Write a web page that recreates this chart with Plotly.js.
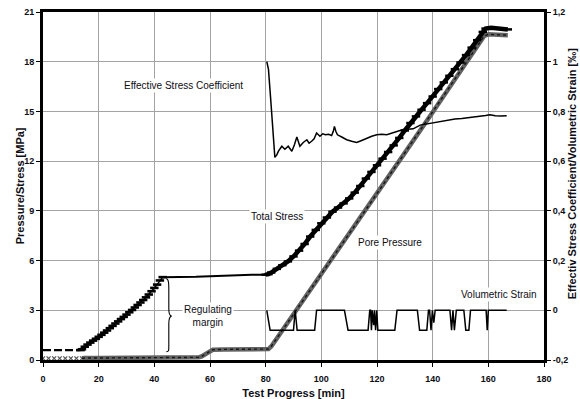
<!DOCTYPE html>
<html>
<head>
<meta charset="utf-8">
<script src="https://cdn.plot.ly/plotly-3.0.1.min.js"></script>
<style>
  html, body { margin: 0; padding: 0; background: #ffffff; }
  #chart { width: 580px; height: 399px; }
</style>
</head>
<body>
<div id="chart"></div>
<script>
// Test progress in minutes and the measured pressures (MPa)
const totalStressMin = [0, 13.5, 14, 15, 16, 17, 18, 19, 20, 21, 22, 23, 24, 25, 26, 27, 28, 29, 30, 31, 32, 33, 34, 35, 36, 37, 38, 39, 40, 41, 42, 43,
  45, 50, 55, 60, 65, 70, 75, 80, 81, 82, 84, 86, 88, 90, 92, 94, 96, 98, 100, 102, 104, 106, 108, 110, 112, 114, 116, 118, 120,
  122, 124, 126, 128, 130, 132, 134, 136, 138, 140, 142, 144, 146, 148, 150, 152, 154, 156, 158, 159, 161, 164, 167];
const totalStressMPa = [0.6, 0.6, 0.65, 0.8, 0.93, 1.05, 1.17, 1.28, 1.4, 1.52, 1.65, 1.78, 1.92, 2.06, 2.2, 2.33, 2.47, 2.6, 2.74, 2.88, 3.02, 3.17, 3.32, 3.47, 3.62, 3.78, 3.95, 4.15, 4.35, 4.55, 4.8, 5.0,
  5.0, 5.02, 5.02, 5.06, 5.1, 5.12, 5.14, 5.15, 5.18, 5.28, 5.5, 5.72, 5.95, 6.25, 6.6, 7.0, 7.45, 7.85, 8.25, 8.6, 8.95, 9.2, 9.45, 9.75, 10.1, 10.5, 10.95, 11.35, 11.75,
  12.15, 12.55, 12.95, 13.4, 13.85, 14.3, 14.7, 15.1, 15.5, 15.9, 16.35, 16.75, 17.15, 17.55, 17.95, 18.4, 18.85, 19.3, 19.8, 20.0, 20.05, 20.0, 19.95];

const porePressureMin = [0, 2, 4, 6, 8, 10, 12, 14, 15, 20, 30, 40, 50, 55, 56, 57, 58, 59, 60, 61, 65, 70, 75, 80, 81, 82, 90, 100, 110, 120, 130, 140, 150, 157, 158.5, 160, 167];
const porePressureMPa = [0.1, 0.1, 0.1, 0.1, 0.1, 0.1, 0.1, 0.1, 0.12, 0.12, 0.13, 0.13, 0.14, 0.15, 0.16, 0.22, 0.32, 0.45, 0.55, 0.62, 0.64, 0.64, 0.64, 0.64, 0.66, 0.82, 2.75, 5.2, 7.6, 10.05, 12.5, 14.95, 17.4, 19.15, 19.55, 19.65, 19.6];

// Effective stress coefficient and volumetric strain (right axis)
const coefficientMin = [80.4, 81.0, 81.8, 82.5, 83.3, 84.0, 84.6, 85.8, 86.9, 88.1, 89.4, 90.3, 91.2, 92.3, 93.5, 94.8, 95.6, 96.5, 97.4, 98.3, 99.5, 100.5, 101.5, 102.6, 103.7, 104.3, 104.7, 105.2, 105.8, 107.5,
  109.1, 110.9, 112.7, 114.5, 116.3, 118.1, 119.9, 121.7, 123.5, 125.3, 127.1, 129.4, 131.2, 133.0, 135.5, 138, 140.5, 143, 145.5, 148, 150.5, 153, 155.5, 157.5, 159, 160.6, 162.5, 164.5, 166.6];
const coefficientVal = [1.0, 0.97, 0.85, 0.72, 0.615, 0.625, 0.64, 0.66, 0.648, 0.66, 0.64, 0.665, 0.697, 0.66, 0.675, 0.686, 0.672, 0.68, 0.69, 0.713, 0.70, 0.71, 0.706, 0.708, 0.703, 0.72, 0.74, 0.72, 0.706, 0.696,
  0.686, 0.68, 0.675, 0.683, 0.693, 0.70, 0.706, 0.708, 0.706, 0.712, 0.72, 0.727, 0.728, 0.73, 0.745, 0.75, 0.755, 0.76, 0.767, 0.77, 0.772, 0.775, 0.778, 0.78, 0.784, 0.787, 0.783, 0.782, 0.783];

const strainMin = [80.4, 81.6, 90.0, 90.6, 91.3, 97.6, 98.3, 108.3, 109.6, 116.8, 117.4, 117.7, 118.0, 118.3, 118.8, 119.1, 119.5, 119.9, 120.3, 121.0, 126.4, 127.2,
  134.5, 135.3, 137.9, 138.5, 138.9, 139.4, 139.9, 140.4, 140.9, 146.2, 146.8, 147.3, 147.8, 148.5, 151.2, 151.9, 153.0, 153.6, 159.2, 159.6, 160.0, 166.6];
const strainVal = [0, -0.08, -0.08, 0, -0.08, -0.08, 0, 0, -0.08, -0.08, 0, 0, -0.08, 0, -0.06, 0, -0.08, 0, -0.08, -0.08, -0.08, 0,
  0, -0.08, -0.08, 0, 0, -0.08, 0, -0.05, 0, 0, -0.08, 0, -0.08, 0, 0, -0.08, -0.08, 0, 0, -0.08, 0, 0];

// Right axis tick labels (decimal comma)
const rightTickVals = [-0.2, 0, 0.2, 0.4, 0.6, 0.8, 1.0, 1.2];
const rightTickText = ['-0,2', '0', '0,2', '0,4', '0,6', '0,8', '1', '1,2'];

const FONT = 'Liberation Sans, Arial, Helvetica, sans-serif';
const INK = '#0d0d14';

// index boundaries of the total-stress phases
const tsRiseStart = 1;   // end of the dashed initial level
const tsHoldStart = 31;  // first loading reaches ~5 MPa
const tsLoadStart = 39;  // second loading starts at ~80 min
// pore pressure before 14 min is drawn as single markers
const ppStart = 7;

function part(xs, ys, a, b) { return { x: xs.slice(a, b), y: ys.slice(a, b) }; }

const ppMarks = part(porePressureMin, porePressureMPa, 0, ppStart + 1);
const ppLine = part(porePressureMin, porePressureMPa, ppStart);
const tsInit = part(totalStressMin, totalStressMPa, 0, tsRiseStart + 1);
const tsRise = part(totalStressMin, totalStressMPa, tsRiseStart, tsHoldStart + 1);
const tsHold = part(totalStressMin, totalStressMPa, tsHoldStart, tsLoadStart + 1);
const tsLoad = part(totalStressMin, totalStressMPa, tsLoadStart);

const base = { type: 'scatter', hoverinfo: 'skip' };
const traces = [
  Object.assign({}, base, ppMarks, { mode: 'markers',
    marker: { symbol: 'x-thin', size: 4, line: { width: 1.2, color: '#555' } } }),
  Object.assign({}, base, ppLine, { mode: 'lines', line: { color: '#626262', width: 4.5 } }),
  Object.assign({}, base, ppLine, { mode: 'lines', line: { color: '#151515', width: 1.4, dash: 'dot' } }),
  Object.assign({}, base, tsInit, { mode: 'lines', line: { color: '#000', width: 2.2, dash: '8px,3px' } }),
  Object.assign({}, base, tsRise, { mode: 'lines+markers', line: { color: '#000', width: 1.5 },
    marker: { symbol: 'line-ew', size: 6, line: { width: 2.6, color: '#000' } } }),
  Object.assign({}, base, tsHold, { mode: 'lines', line: { color: '#000', width: 2 } }),
  Object.assign({}, base, tsLoad, { mode: 'lines+markers', line: { color: '#000', width: 4.5 },
    marker: { symbol: 'line-ew', size: 6, line: { width: 2.5, color: '#000' } } }),
  Object.assign({}, base, { x: coefficientMin, y: coefficientVal, yaxis: 'y2', mode: 'lines',
    line: { color: '#000', width: 1.5 } }),
  Object.assign({}, base, { x: strainMin, y: strainVal, yaxis: 'y2', mode: 'lines',
    line: { color: '#000', width: 1.5 } })
];

const labelFont = { family: FONT, size: 10, color: INK };
function label(text, x, y) {
  return { text: text, x: x, y: y, xref: 'x', yref: 'y', showarrow: false,
    font: labelFont, bgcolor: '#ffffff', borderpad: 1, xanchor: 'center', yanchor: 'middle' };
}
const titleFont = { family: FONT, size: 11, color: INK, weight: 'bold' };
const tickFont = { family: FONT, size: 9, color: INK, weight: 'bold' };

const layout = {
  width: 580, height: 399,
  margin: { l: 43, r: 36, t: 12, b: 39 },
  paper_bgcolor: '#ffffff', plot_bgcolor: '#ffffff',
  showlegend: false,
  font: { family: FONT, color: INK },
  xaxis: {
    range: [0, 180], tick0: 0, dtick: 20, automargin: false,
    showgrid: true, gridcolor: '#a3a3a3', gridwidth: 1, zeroline: false,
    showline: true, linecolor: '#000', linewidth: 3, mirror: true,
    ticks: 'outside', ticklen: 4, tickwidth: 1, tickcolor: '#000', ticklabelstandoff: 4,
    tickfont: tickFont,
    title: { text: 'Test Progress [min]', standoff: 8, font: titleFont }
  },
  yaxis: {
    range: [0, 21], tick0: 0, dtick: 3, automargin: false,
    showgrid: true, gridcolor: '#a3a3a3', gridwidth: 1, zeroline: false,
    showline: true, linecolor: '#000', linewidth: 3,
    ticks: 'outside', ticklen: 4, tickwidth: 1, tickcolor: '#000',
    tickfont: tickFont
  },
  yaxis2: {
    overlaying: 'y', side: 'right', range: [-0.2, 1.2], automargin: false,
    tickmode: 'array', tickvals: rightTickVals, ticktext: rightTickText,
    showgrid: false, zeroline: false,
    showline: true, linecolor: '#000', linewidth: 3,
    ticks: 'outside', ticklen: 4, tickwidth: 1, tickcolor: '#000',
    tickfont: tickFont
  },
  shapes: [
    { // brace marking the regulating margin
      type: 'path', xref: 'x', yref: 'y',
      path: 'M 44.3,4.9 C 45.3,4.9 45.2,4.5 45.2,4.0 L 45.2,3.1 C 45.2,2.75 45.6,2.67 46.2,2.65 C 45.6,2.63 45.2,2.55 45.2,2.2 L 45.2,1.0 C 45.2,0.55 45.3,0.5 44.3,0.5',
      line: { color: '#000', width: 1.1 }
    }
  ],
  annotations: [
    label('Effective Stress Coefficient', 50.4, 16.57),
    label('Total Stress', 84.2, 8.66),
    label('Pore Pressure', 124.8, 7.09),
    label('Volumetric Strain', 163.9, 3.93),
    label('Regulating<br>margin', 59.3, 2.66),
    {
      text: 'Pressure/Stress [MPa]',
      xref: 'paper', yref: 'paper', x: -0.046, y: 0.502,
      textangle: -90, showarrow: false, xanchor: 'center', yanchor: 'middle',
      font: titleFont
    },
    {
      text: 'Effectiv Stress Coefficient/Volumetric Strain [‰]',
      xref: 'paper', yref: 'paper', x: 1.056, y: 0.534,
      textangle: -90, showarrow: false, xanchor: 'center', yanchor: 'middle',
      font: titleFont
    }
  ]
};

Plotly.newPlot('chart', traces, layout, { staticPlot: true, displayModeBar: false });
</script>
</body>
</html>
